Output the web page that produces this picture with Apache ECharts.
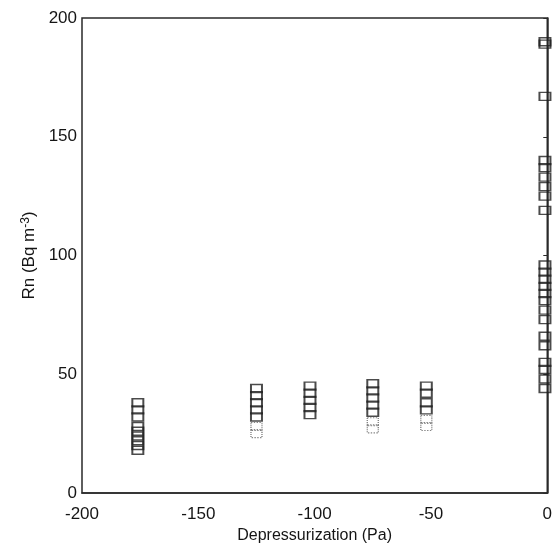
<!DOCTYPE html>
<html>
<head>
<meta charset="utf-8">
<script src="https://cdn.jsdelivr.net/npm/echarts@6/dist/echarts.min.js"></script>
<style>
  html, body { margin: 0; padding: 0; background: #fff; }
  #chart { width: 555px; height: 551px; }
</style>
</head>
<body>
<div id="chart"></div>
<script>
// Depressurization levels (Pa) where radon was sampled
const depressurization = [-176, -125, -102, -75, -52, -1];

// Radon concentration readings (Bq m-3) at each level, clearly printed boxes
const rnAtLevel = [
  [38, 35, 32, 28, 26, 24, 22, 20, 18],
  [44, 41, 38, 35, 32],
  [45, 42, 39, 36, 33],
  [46, 43, 40, 37, 34],
  [45, 42, 38, 35],
  [190, 189, 167, 140, 137, 133, 129, 125, 119, 96, 93, 90, 87, 84, 81, 77, 73, 66, 62, 55, 52, 48, 44]
];

// Faint readings (printed with broken outlines)
const rnFaint = [
  [],
  [28, 25],
  [],
  [30, 27],
  [31, 28],
  []
];

const xTicks = [-200, -150, -100, -50, 0];
const yTicks = [0, 50, 100, 150, 200];

function toPoints(groups) {
  const pts = [];
  groups.forEach((vals, i) => vals.forEach(v => pts.push([depressurization[i], v])));
  return pts;
}

const font = 'Liberation Sans, Arial, sans-serif';
const ink = '#151515';
const chart = echarts.init(document.getElementById('chart'), null, { renderer: 'canvas' });

chart.setOption({
  backgroundColor: '#ffffff',
  animation: false,
  grid: {
    left: 82, right: 3, top: 18, bottom: 58,
    show: true, borderColor: '#2a2a2a', borderWidth: 1.5, backgroundColor: 'transparent'
  },
  xAxis: {
    type: 'value',
    min: xTicks[0], max: xTicks[xTicks.length - 1], interval: 50,
    name: 'Depressurization (Pa)',
    nameLocation: 'middle', nameGap: 35,
    nameTextStyle: { fontFamily: font, fontSize: 16, color: ink },
    axisLine: { lineStyle: { color: '#2a2a2a', width: 1.5 } },
    axisTick: { show: false },
    splitLine: { show: false },
    axisLabel: { fontFamily: font, fontSize: 17, color: ink, margin: 13, showMaxLabel: true }
  },
  yAxis: {
    type: 'value',
    min: yTicks[0], max: yTicks[yTicks.length - 1], interval: 50,
    name: '{n|Rn (Bq m}{s|-3}{n|)}',
    nameLocation: 'middle', nameGap: 40, nameRotate: 90,
    nameTextStyle: {
      rich: {
        n: { fontFamily: font, fontSize: 17, color: ink },
        s: { fontFamily: font, fontSize: 12, color: ink, verticalAlign: 'top', padding: [0, 0, 8, 0] }
      }
    },
    axisLine: { lineStyle: { color: '#2a2a2a', width: 1.5 } },
    axisTick: { show: true, length: 4, lineStyle: { color: '#2a2a2a' } },
    splitLine: { show: false },
    axisLabel: { fontFamily: font, fontSize: 17, color: ink, margin: 5 }
  },
  series: [
    {
      type: 'scatter',
      data: toPoints(rnAtLevel),
      symbol: 'rect',
      symbolSize: [11, 8],
      itemStyle: { color: 'rgba(255,255,255,0)', borderColor: '#1e1e1e', borderWidth: 1.7 }
    },
    {
      type: 'scatter',
      data: toPoints(rnFaint),
      symbol: 'rect',
      symbolSize: [11, 8],
      itemStyle: { color: 'rgba(255,255,255,0)', borderColor: '#666', borderWidth: 1.2, borderType: 'dotted' }
    }
  ]
});
</script>
</body>
</html>
